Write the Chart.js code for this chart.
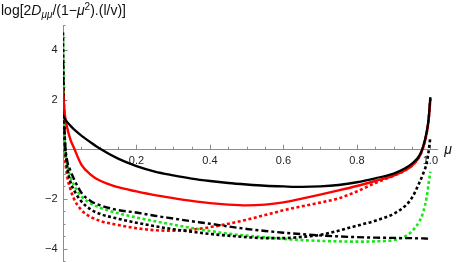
<!DOCTYPE html>
<html lang="en">
<head>
    <meta charset="UTF-8">
    <title>log 2Dmumu chart</title>
    <script src="https://cdn.jsdelivr.net/npm/chart.js"></script>
    <style>
        body {
            margin: 0;
            background: #ffffff;
        }
        #plot {
            display: block;
        }
    </style>
</head>
<body>
    <canvas id="plot" width="457" height="262"></canvas>

    <script>
        // pitch-angle cosine grid
        const mu = [0, 0.002, 0.005, 0.01, 0.02, 0.03, 0.05, 0.075, 0.1, 0.15, 0.2, 0.25, 0.3, 0.35, 0.4, 0.45,
            0.5, 0.55, 0.6, 0.65, 0.7, 0.75, 0.8, 0.85, 0.9, 0.93, 0.95, 0.97, 0.98, 0.99, 0.995, 1.0];

        const blackSolid = [1.37, 1.3, 1.22, 1.12, 0.95, 0.8, 0.55, 0.28, 0.03, -0.38, -0.68, -0.9, -1.05, -1.18, -1.28, -1.36,
            -1.42, -1.47, -1.5, -1.52, -1.5, -1.44, -1.33, -1.17, -0.98, -0.78, -0.58, -0.26, 0.1, 0.7, 1.2, 2.1];
        const redSolid = [2.45, 1.9, 1.4, 0.95, 0.4, 0.05, -0.62, -1.02, -1.26, -1.53, -1.7, -1.85, -1.97, -2.08, -2.17, -2.23,
            -2.26, -2.23, -2.14, -1.99, -1.83, -1.66, -1.48, -1.28, -1.06, -0.86, -0.66, -0.3, 0.05, 0.65, 1.15, 2.05];
        const redDotted = [2.0, 0.8, -0.2, -0.95, -1.6, -2.0, -2.45, -2.72, -2.88, -3.05, -3.18, -3.26, -3.28, -3.24, -3.14, -3.0,
            -2.84, -2.65, -2.46, -2.3, -2.15, -1.98, -1.7, -1.36, -1.07, -0.86, -0.66, -0.3, 0.05, 0.65, 1.15, 2.05];
        const greenDotted = [4.6, 2.0, 0.3, -0.5, -1.1, -1.45, -1.9, -2.18, -2.35, -2.58, -2.75, -2.9, -3.04, -3.17, -3.29, -3.4,
            -3.48, -3.55, -3.61, -3.66, -3.69, -3.71, -3.72, -3.71, -3.66, -3.52, -3.3, -2.9, -2.55, -1.92, -1.4, -0.9];
        const blackDotted = [4.7, 2.2, 0.4, -0.55, -1.3, -1.65, -2.1, -2.42, -2.6, -2.8, -2.96, -3.1, -3.22, -3.32, -3.41, -3.48,
            -3.54, -3.58, -3.58, -3.53, -3.45, -3.28, -3.08, -2.88, -2.6, -2.3, -1.95, -1.35, -1.0, -0.55, -0.1, 0.5];
        const blackDashDot = [3.5, 1.8, 0.4, -0.35, -0.85, -1.2, -1.75, -2.08, -2.25, -2.45, -2.55, -2.68, -2.79, -2.9, -3.0, -3.11,
            -3.21, -3.29, -3.36, -3.42, -3.47, -3.51, -3.54, -3.56, -3.57, -3.58, -3.58, -3.59, -3.59, -3.6, -3.6, -3.6];

        // axis ticks
        const xTicks = [0.05, 0.1, 0.15, 0.2, 0.25, 0.3, 0.35, 0.4, 0.45, 0.5, 0.55, 0.6, 0.65, 0.7, 0.75, 0.8, 0.85, 0.9, 0.95, 1.0];
        const xLabels = [0.2, 0.4, 0.6, 0.8, 1.0];
        const yTicks = [-4.5, -4, -3.5, -3, -2.5, -2, -1.5, -1, -0.5, 0.5, 1, 1.5, 2, 2.5, 3, 3.5, 4, 4.5, 5];
        const yLabels = [-4, -2, 2, 4];

        const axisGray = '#8c8c8c';
        const FONT = '"Liberation Sans", Arial, sans-serif';

        function series(vals) {
            return mu.map((m, i) => ({ x: m, y: vals[i] }));
        }

        function isLabel(list, v) {
            return list.some(l => Math.abs(l - v) < 1e-6);
        }

        // no layout space for the axes: they sit inside the plot
        function noSpace(s) {
            if (s.isHorizontal()) s.height = 0; else s.width = 0;
            s.paddingTop = 0;
            s.paddingBottom = 0;
            s.paddingLeft = 0;
            s.paddingRight = 0;
        }

        // small tick marks drawn inward from the axes, like the original
        const tickMarks = {
            id: 'tickMarks',
            beforeDatasetsDraw(chart) {
                const c = chart.ctx;
                const xs = chart.scales.x, ys = chart.scales.y;
                const x0 = xs.getPixelForValue(0), y0 = ys.getPixelForValue(0);
                c.save();
                c.strokeStyle = axisGray;
                c.lineWidth = 1;
                c.beginPath();
                xTicks.forEach(v => {
                    const px = Math.round(xs.getPixelForValue(v)) + 0.5;
                    const len = isLabel(xLabels, v) ? 4.5 : 2.5;
                    c.moveTo(px, y0);
                    c.lineTo(px, y0 - len);
                });
                yTicks.forEach(v => {
                    const py = Math.round(ys.getPixelForValue(v)) + 0.5;
                    const len = isLabel(yLabels, v) ? 4.5 : 2.5;
                    c.moveTo(x0, py);
                    c.lineTo(x0 + len, py);
                });
                c.stroke();
                c.restore();
            }
        };

        // axis titles with italic / sub / superscript parts
        const axisTitles = {
            id: 'axisTitles',
            afterDraw(chart) {
                const c = chart.ctx;
                c.save();
                c.fillStyle = '#111';
                c.textBaseline = 'alphabetic';
                c.textAlign = 'left';
                const parts = [
                    { t: 'log[2', f: '14px ' + FONT, dy: 0 },
                    { t: 'D', f: 'italic 14px ' + FONT, dy: 0 },
                    { t: 'μμ', f: 'italic 10px ' + FONT, dy: 3 },
                    { t: '/(1\u2212', f: '14px ' + FONT, dy: 0 },
                    { t: 'μ', f: 'italic 14px ' + FONT, dy: 0 },
                    { t: '2', f: '10px ' + FONT, dy: -5.5 },
                    { t: ').(l/v)]', f: '14px ' + FONT, dy: 0 }
                ];
                let x = 1;
                const base = 15;
                parts.forEach(p => {
                    c.font = p.f;
                    c.fillText(p.t, x, base + p.dy);
                    x += c.measureText(p.t).width;
                });

                const ys = chart.scales.y;
                c.font = 'italic 14px ' + FONT;
                c.textAlign = 'center';
                c.textBaseline = 'middle';
                c.fillText('μ', 448, ys.getPixelForValue(0) + 1);
                c.restore();
            }
        };

        const ctx = document.getElementById('plot').getContext('2d');
        const chart = new Chart(ctx, {
            type: 'line',
            data: {
                datasets: [
                    { data: series(blackSolid), borderColor: '#000000', borderWidth: 2.3 },
                    { data: series(redSolid), borderColor: '#ff0000', borderWidth: 2.4 },
                    { data: series(blackDashDot), borderColor: '#000000', borderWidth: 2.4, borderDash: [7, 3, 3, 3] },
                    { data: series(blackDotted), borderColor: '#000000', borderWidth: 2.6, borderDash: [3, 2.5] },
                    { data: series(greenDotted), borderColor: '#19e619', borderWidth: 2.6, borderDash: [3, 2.5] },
                    { data: series(redDotted), borderColor: '#ff0000', borderWidth: 2.6, borderDash: [3, 2.5] }
                ]
            },
            options: {
                responsive: false,
                animation: false,
                devicePixelRatio: 1,
                layout: { padding: { left: 63, right: 20, top: 25, bottom: 1 } },
                elements: {
                    point: { radius: 0 },
                    line: { cubicInterpolationMode: 'monotone', fill: false, borderCapStyle: 'butt' }
                },
                plugins: {
                    legend: { display: false },
                    tooltip: { enabled: false }
                },
                scales: {
                    x: {
                        type: 'linear',
                        min: 0,
                        max: 1.018,
                        position: { y: 0 },
                        grid: { display: false, drawTicks: false },
                        border: { display: true, color: axisGray, width: 1 },
                        afterFit: noSpace,
                        afterBuildTicks(s) { s.ticks = xLabels.map(v => ({ value: v })); },
                        ticks: {
                            autoSkip: false,
                            maxRotation: 0,
                            padding: 5,
                            color: '#222',
                            font: { family: FONT, size: 11 },
                            callback: v => v.toFixed(1)
                        }
                    },
                    y: {
                        type: 'linear',
                        min: -4.5,
                        max: 5,
                        position: { x: 0 },
                        grid: { display: false, drawTicks: false },
                        border: { display: true, color: axisGray, width: 1 },
                        afterFit: noSpace,
                        afterBuildTicks(s) { s.ticks = yLabels.map(v => ({ value: v })); },
                        ticks: {
                            autoSkip: false,
                            padding: 5,
                            color: '#222',
                            font: { family: FONT, size: 11 },
                            // en space keeps the label clear of the axis line
                            callback: v => (v < 0 ? '\u2212' + Math.abs(v) : String(v)) + '\u2002'
                        }
                    }
                }
            },
            plugins: [tickMarks, axisTitles]
        });
    </script>
</body>
</html>
